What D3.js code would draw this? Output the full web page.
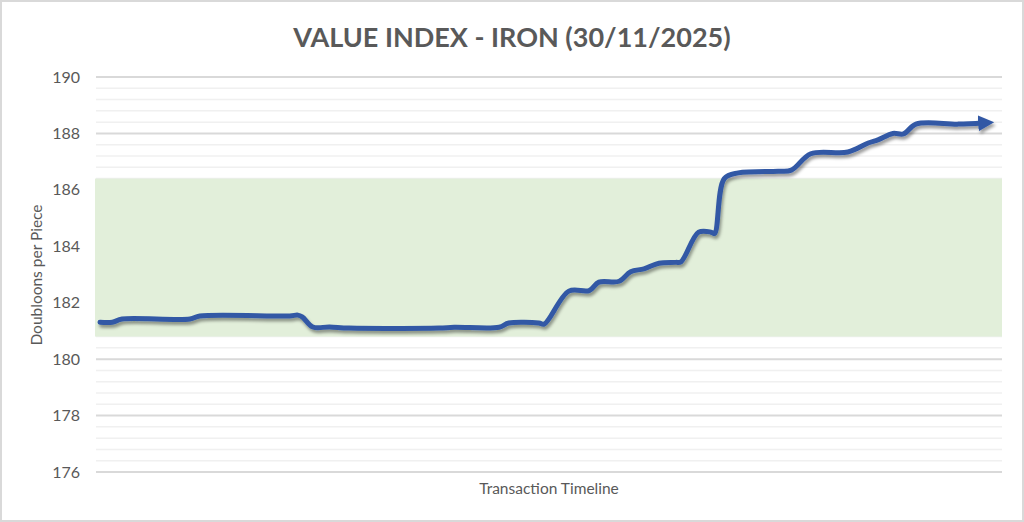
<!DOCTYPE html>
<html>
<head>
<meta charset="utf-8">
<script src="https://cdn.jsdelivr.net/npm/d3@7"></script>
<style>
  html, body { margin: 0; padding: 0; background: #fff; }
  svg { display: block; }
  text { font-family: Lato, "Open Sans", sans-serif; }
</style>
</head>
<body>
<svg id="chart" width="1024" height="522"></svg>
<script>
// ---- data ----
const titleText = "VALUE INDEX - IRON (30/11/2025)";
const yAxisTitle = "Doubloons per Piece";
const xAxisTitle = "Transaction Timeline";
const yTicks = [176, 178, 180, 182, 184, 186, 188, 190];
const bandRange = [180.8, 186.4];
const txn = [0, 1.4, 2.5, 10.2, 11.3, 21.5, 22.4, 22.9, 24.1, 26, 28.2, 38.4, 40.1, 45.2, 46.3, 49.7, 50.3, 53.1, 55.4, 56.5, 58.8, 60.1, 61.6, 63.3, 65.2, 65.8, 67.8, 69.2, 69.6, 70.7, 72.3, 76.8, 78.3, 80.5, 84.7, 87, 88.1, 89.8, 91, 92.4, 97.2, 100];
const price = [181.31, 181.31, 181.42, 181.42, 181.53, 181.53, 181.56, 181.5, 181.14, 181.14, 181.10, 181.10, 181.13, 181.13, 181.28, 181.28, 181.24, 182.41, 182.43, 182.73, 182.76, 183.1, 183.2, 183.4, 183.43, 183.45, 184.5, 184.5, 184.45, 186.4, 186.6, 186.66, 186.7, 187.28, 187.34, 187.66, 187.77, 188.0, 187.98, 188.33, 188.33, 188.37];

// ---- layout ----
const W = 1024, H = 522;
const plot = { left: 96, right: 1002, top: 77, bottom: 472 };
const svg = d3.select("#chart");

const defs = svg.append("defs");
const f = defs.append("filter").attr("id", "shadow").attr("x", "-5%").attr("y", "-20%").attr("width", "110%").attr("height", "160%");
f.append("feDropShadow").attr("dx", 1.5).attr("dy", 3).attr("stdDeviation", 1.6)
  .attr("flood-color", "#000").attr("flood-opacity", 0.38);
defs.append("marker").attr("id", "arrow")
  .attr("viewBox", "0 0 10 10").attr("refX", 3).attr("refY", 5)
  .attr("markerWidth", 3.2).attr("markerHeight", 3.2)
  .attr("orient", "auto").attr("markerUnits", "strokeWidth")
  .append("path").attr("d", "M0,0 L10,5 L0,10 z").attr("fill", "#3259a5");

// outer border
svg.append("rect").attr("x", 1).attr("y", 1).attr("width", W - 2).attr("height", H - 2)
  .attr("fill", "#fff").attr("stroke", "#d9d9d9").attr("stroke-width", 2);

const x = d3.scaleLinear().domain([0, 100]).range([100, 983]);
const y = d3.scaleLinear().domain([176, 190]).range([plot.bottom, plot.top]);

// minor gridlines
const minor = d3.range(176, 190.001, 0.4).filter(v => Math.abs(v - Math.round(v / 2) * 2) > 0.01);
svg.append("g").selectAll("line").data(minor).join("line")
  .attr("x1", plot.left).attr("x2", plot.right)
  .attr("y1", d => y(d)).attr("y2", d => y(d))
  .attr("stroke", "#f0f0f0").attr("stroke-width", 1.5);

// major gridlines
svg.append("g").selectAll("line").data(yTicks).join("line")
  .attr("x1", plot.left).attr("x2", plot.right)
  .attr("y1", d => y(d)).attr("y2", d => y(d))
  .attr("stroke", "#d9d9d9").attr("stroke-width", 2);

// green band (drawn over gridlines)
svg.append("rect")
  .attr("x", plot.left - 1).attr("width", plot.right - plot.left + 1)
  .attr("y", y(bandRange[1])).attr("height", y(bandRange[0]) - y(bandRange[1]))
  .attr("fill", "#e2efda");

// y axis labels
const yAxis = d3.axisLeft(y).tickValues(yTicks).tickSize(0).tickPadding(0).tickFormat(d3.format("d"));
const gy = svg.append("g").attr("transform", `translate(${plot.left - 16},0)`).call(yAxis);
gy.select(".domain").remove();
gy.selectAll("text").attr("fill", "#595959").style("font-size", "16px").style("font-family", "Lato, sans-serif");

// line
const line = d3.line().x((d, i) => x(txn[i])).y(d => y(d)).curve(d3.curveCatmullRom.alpha(0.5));
svg.append("path").datum(price)
  .attr("d", line)
  .attr("fill", "none").attr("stroke", "#3259a5").attr("stroke-width", 5)
  .attr("stroke-linecap", "round").attr("stroke-linejoin", "round")
  .attr("marker-end", "url(#arrow)")
  .attr("filter", "url(#shadow)");

// titles
svg.append("text").attr("x", 512).attr("y", 47).attr("text-anchor", "middle")
  .attr("fill", "#595959").style("font-size", "27px").style("font-weight", "bold").text(titleText);
svg.append("text").attr("transform", "translate(42,275) rotate(-90)").attr("text-anchor", "middle")
  .attr("fill", "#595959").style("font-size", "15.5px").text(yAxisTitle);
svg.append("text").attr("x", 549).attr("y", 494).attr("text-anchor", "middle")
  .attr("fill", "#595959").style("font-size", "15.5px").text(xAxisTitle);
</script>
</body>
</html>
